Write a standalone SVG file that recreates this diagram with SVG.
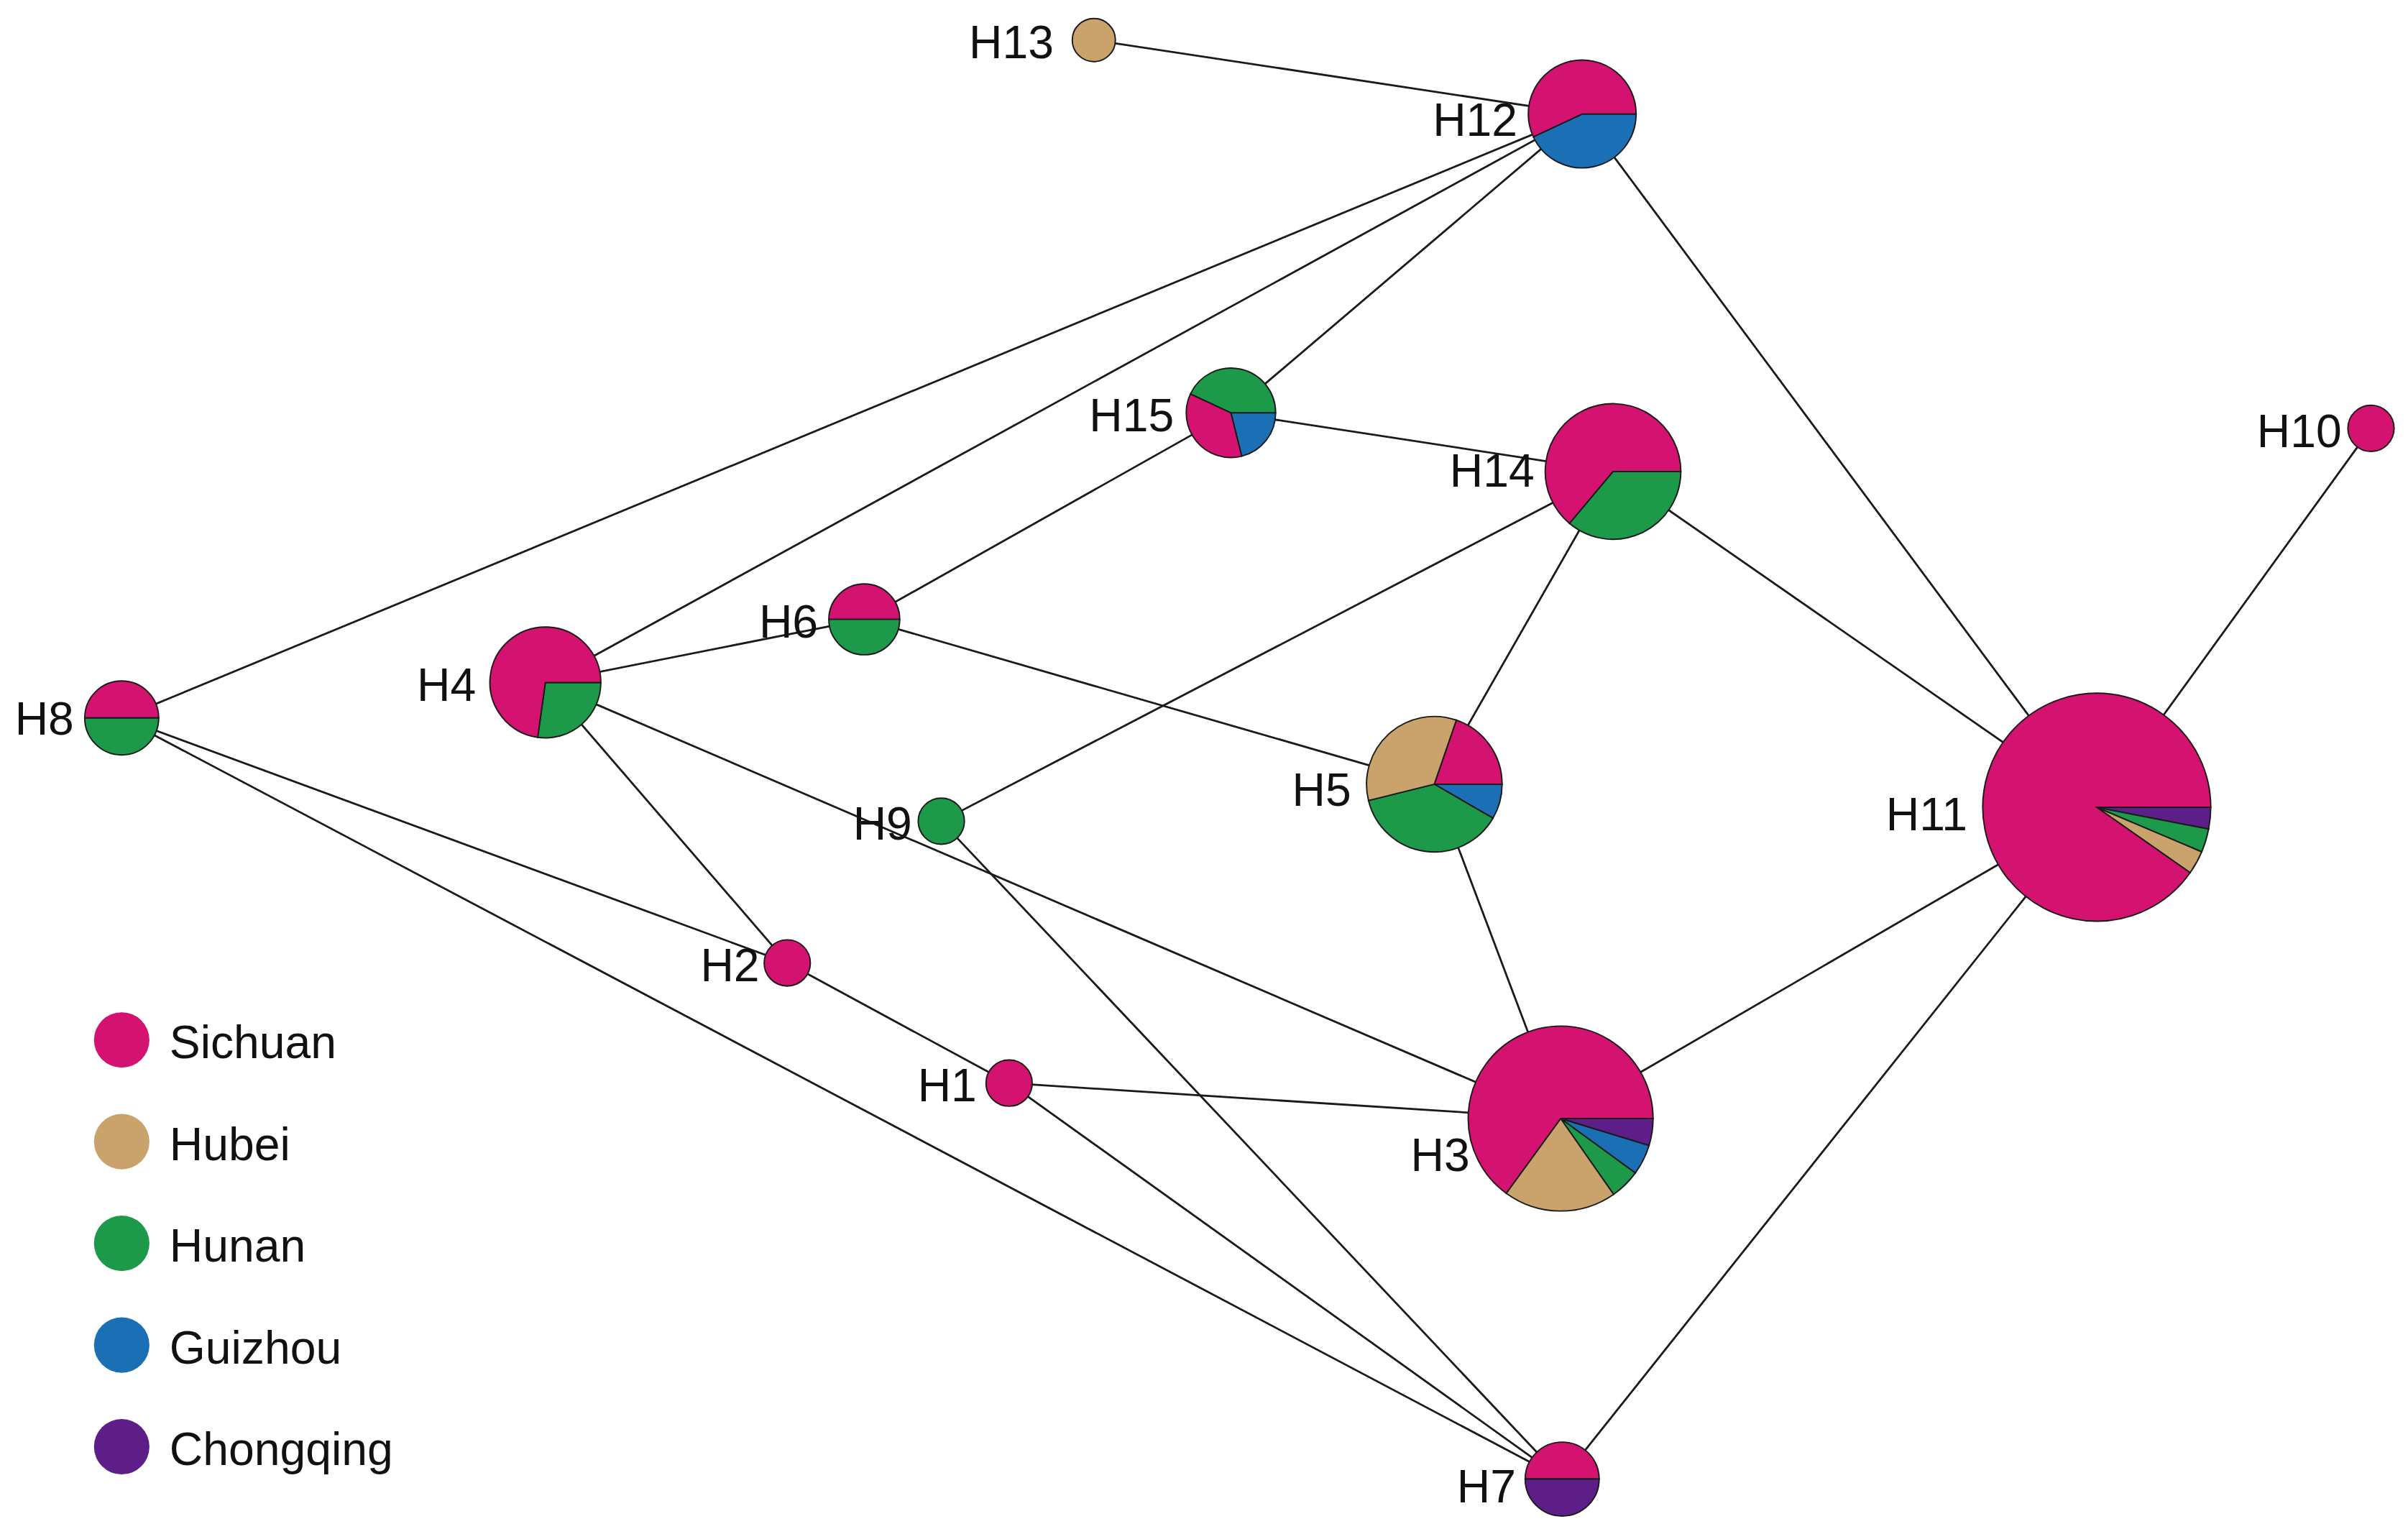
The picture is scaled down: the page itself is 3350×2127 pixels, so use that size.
<svg xmlns="http://www.w3.org/2000/svg" width="3350" height="2127" viewBox="0 0 3350 2127">
<style>
.e{stroke:#1a1a1a;stroke-width:1.3;fill:none}
.s{stroke:#1a1a1a;stroke-width:0.9}
.si{fill:#D4126F}.hb{fill:#C9A36B}.hn{fill:#1C9A4A}.gz{fill:#1B6FB5}.cq{fill:#5E1E88}
text{font-family:"Liberation Sans",Arial,sans-serif;font-size:30px;fill:#111}
.l{text-anchor:end}
</style>
<rect width="3350" height="2127" fill="#fff"/>
<g transform="scale(2.14328)">
<g id="connectors">
<line class="e" x1="710" y1="26" x2="1027" y2="74"/>
<line class="e" x1="1027" y1="74" x2="79" y2="466"/>
<line class="e" x1="1027" y1="74" x2="354" y2="443"/>
<line class="e" x1="1027" y1="74" x2="799" y2="268"/>
<line class="e" x1="1027" y1="74" x2="1361" y2="524"/>
<line class="e" x1="799" y1="268" x2="1047" y2="306"/>
<line class="e" x1="799" y1="268" x2="561" y2="402"/>
<line class="e" x1="1047" y1="306" x2="611" y2="533"/>
<line class="e" x1="1047" y1="306" x2="931" y2="509"/>
<line class="e" x1="1047" y1="306" x2="1361" y2="524"/>
<line class="e" x1="1539" y1="278" x2="1361" y2="524"/>
<line class="e" x1="561" y1="402" x2="354" y2="443"/>
<line class="e" x1="561" y1="402" x2="931" y2="509"/>
<line class="e" x1="79" y1="466" x2="511" y2="625"/>
<line class="e" x1="79" y1="466" x2="1014" y2="960"/>
<line class="e" x1="354" y1="443" x2="511" y2="625"/>
<line class="e" x1="354" y1="443" x2="1013" y2="726"/>
<line class="e" x1="611" y1="533" x2="1014" y2="960"/>
<line class="e" x1="511" y1="625" x2="655" y2="703"/>
<line class="e" x1="655" y1="703" x2="1013" y2="726"/>
<line class="e" x1="655" y1="703" x2="1014" y2="960"/>
<line class="e" x1="931" y1="509" x2="1013" y2="726"/>
<line class="e" x1="1013" y1="726" x2="1361" y2="524"/>
<line class="e" x1="1361" y1="524" x2="1014" y2="960"/>
</g>
<g id="H13"><circle class="s hb" cx="710" cy="26" r="14"/><text class="l" x="684" y="38">H13</text></g>
<g id="H12">
<path class="s gz" d="M1027,74 L1062,74 A35,35 0 0 1 995.3,88.8 Z"/>
<path class="s si" d="M1027,74 L995.3,88.8 A35,35 0 1 1 1062,74 Z"/>
<text class="l" x="985" y="88">H12</text></g>
<g id="H15">
<path class="s hn" d="M799,268 L772.7,255.7 A29,29 0 0 1 828,268 Z"/>
<path class="s gz" d="M799,268 L828,268 A29,29 0 0 1 806,296.1 Z"/>
<path class="s si" d="M799,268 L806,296.1 A29,29 0 0 1 772.7,255.7 Z"/>
<text class="l" x="762" y="280">H15</text></g>
<g id="H14">
<path class="s hn" d="M1047,306 L1091,306 A44,44 0 0 1 1018.7,339.7 Z"/>
<path class="s si" d="M1047,306 L1018.7,339.7 A44,44 0 1 1 1091,306 Z"/>
<text class="l" x="996" y="316">H14</text></g>
<g id="H10"><circle class="s si" cx="1539" cy="278" r="15"/><text class="l" x="1520" y="290">H10</text></g>
<g id="H6">
<path class="s si" d="M538,402 A23,23 0 0 1 584,402 Z"/>
<path class="s hn" d="M584,402 A23,23 0 0 1 538,402 Z"/>
<text class="l" x="531" y="414">H6</text></g>
<g id="H4">
<path class="s hn" d="M354,443 L390,443 A36,36 0 0 1 349,478.6 Z"/>
<path class="s si" d="M354,443 L349,478.6 A36,36 0 1 1 390,443 Z"/>
<text class="l" x="309" y="455">H4</text></g>
<g id="H8">
<path class="s si" d="M55,466 A24,24 0 0 1 103,466 Z"/>
<path class="s hn" d="M103,466 A24,24 0 0 1 55,466 Z"/>
<text class="l" x="48" y="477">H8</text></g>
<g id="H9"><circle class="s hn" cx="611" cy="533" r="15"/><text class="l" x="592" y="545">H9</text></g>
<g id="H5">
<path class="s si" d="M931,509 L945.3,467.4 A44,44 0 0 1 975,509 Z"/>
<path class="s gz" d="M931,509 L975,509 A44,44 0 0 1 969.1,531 Z"/>
<path class="s hn" d="M931,509 L969.1,531 A44,44 0 0 1 888.3,519.6 Z"/>
<path class="s hb" d="M931,509 L888.3,519.6 A44,44 0 0 1 945.3,467.4 Z"/>
<text class="l" x="877" y="523">H5</text></g>
<g id="H11">
<path class="s cq" d="M1361,524 L1435,524 A74,74 0 0 1 1433.6,538.1 Z"/>
<path class="s hn" d="M1361,524 L1433.6,538.1 A74,74 0 0 1 1429.1,552.9 Z"/>
<path class="s hb" d="M1361,524 L1429.1,552.9 A74,74 0 0 1 1421.6,566.4 Z"/>
<path class="s si" d="M1361,524 L1421.6,566.4 A74,74 0 1 1 1435,524 Z"/>
<text class="l" x="1277" y="539">H11</text></g>
<g id="H2"><circle class="s si" cx="511" cy="625" r="15"/><text class="l" x="493" y="637">H2</text></g>
<g id="H1"><circle class="s si" cx="655" cy="703" r="15"/><text class="l" x="634" y="715">H1</text></g>
<g id="H3">
<path class="s cq" d="M1013,726 L1073,726 A60,60 0 0 1 1070.4,743.5 Z"/>
<path class="s gz" d="M1013,726 L1070.4,743.5 A60,60 0 0 1 1061.5,761.3 Z"/>
<path class="s hn" d="M1013,726 L1061.5,761.3 A60,60 0 0 1 1047.4,775.2 Z"/>
<path class="s hb" d="M1013,726 L1047.4,775.2 A60,60 0 0 1 977.7,774.5 Z"/>
<path class="s si" d="M1013,726 L977.7,774.5 A60,60 0 1 1 1073,726 Z"/>
<text class="l" x="954" y="760">H3</text></g>
<g id="H7">
<path class="s si" d="M990,960 A24,24 0 0 1 1038,960 Z"/>
<path class="s cq" d="M1038,960 A24,24 0 0 1 990,960 Z"/>
<text class="l" x="984" y="975">H7</text></g>
<g id="legend">
<circle class="si" cx="79" cy="675" r="18"/><text x="110" y="687">Sichuan</text>
<circle class="hb" cx="79" cy="741" r="18"/><text x="110" y="753">Hubei</text>
<circle class="hn" cx="79" cy="807" r="18"/><text x="110" y="819">Hunan</text>
<circle class="gz" cx="79" cy="873" r="18"/><text x="110" y="885">Guizhou</text>
<circle class="cq" cx="79" cy="939" r="18"/><text x="110" y="951">Chongqing</text>
</g>
</g>
</svg>
